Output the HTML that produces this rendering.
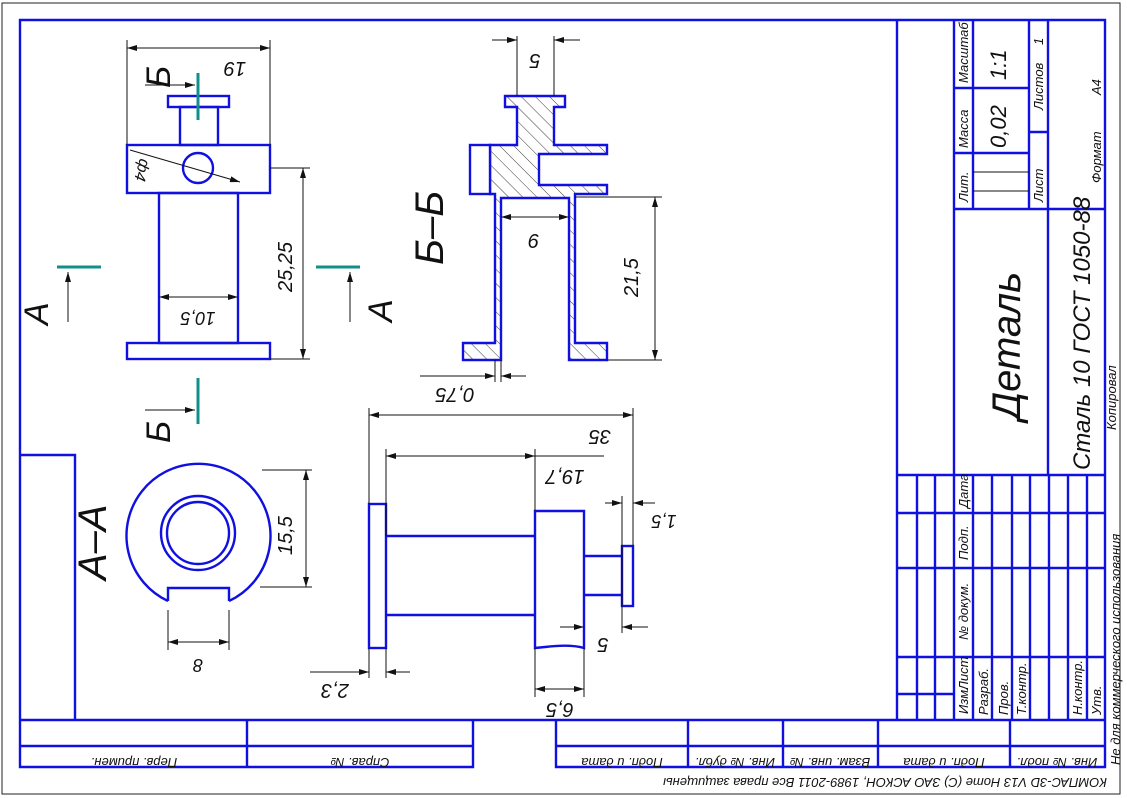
<!DOCTYPE html>
<html><head><meta charset="utf-8"><style>
html,body{margin:0;padding:0;background:#fff;}
svg{display:block;}
text{font-family:"Liberation Sans",sans-serif;font-style:italic;fill:#111;}
</style></head><body>
<svg width="1127" height="798" viewBox="0 0 1127 798" xmlns="http://www.w3.org/2000/svg">
<defs>
<pattern id="h" width="10" height="10" patternUnits="userSpaceOnUse" patternTransform="rotate(-45)">
<line x1="0" y1="0" x2="0" y2="10" stroke="#222" stroke-width="0.9"/>
</pattern>
<marker id="a" viewBox="0 0 10 6" refX="10" refY="3" markerWidth="10" markerHeight="6" orient="auto-start-reverse" markerUnits="userSpaceOnUse">
<path d="M0,0 L10,3 L0,6z" fill="#111"/></marker>
</defs>
<rect x="2" y="3" width="1118" height="791" fill="none" stroke="#222" stroke-width="1"/>
<g fill="none" stroke="#1010e0" stroke-width="2.4">
<path d="M20,720 V20 H1105 V767 H556 V720 M20,720 H1105 M473,720 V767 H20 V720 M20,746 H473 M556,746 H1105 M247,720 V767 M688,720 V767 M783,720 V767 M878,720 V767 M1010,720 V767"/>
<path d="M20,455 H75 V720"/>
<path d="M897,20 V720 M954,20 V720 M1048,20 V475 M954,209 H1105 M897,475 H1105 M954,88 H1029 M954,153 H1029 M973,20 V209 M1029,20 V209 M1029,132 H1048"/>
<path d="M917,475 V720 M935,475 V720 M973,475 V720 M992,475 V720 M1012,475 V720 M1030,475 V720 M1049,475 V720 M1068,475 V720 M1087,475 V720 M897,513 H1105 M897,568 H1105 M897,657 H1105 M897,694 H954"/>
</g>
<g stroke="#111" stroke-width="1"><line x1="973" y1="172" x2="1029" y2="172"/><line x1="973" y1="191" x2="1029" y2="191"/></g>

<g fill="none" stroke="#1010e0" stroke-width="2.4">
<rect x="168" y="96" width="61" height="11"/>
<rect x="180" y="107" width="38" height="38"/>
<rect x="127" y="145" width="143" height="48"/>
<circle cx="198" cy="168" r="15"/>
<rect x="159" y="193" width="79" height="150"/>
<rect x="127" y="343" width="143" height="16"/>
</g>
<g stroke="#111" stroke-width="1" fill="none">
<line x1="127" y1="40" x2="127" y2="145"/><line x1="270" y1="40" x2="270" y2="145"/>
<line x1="127" y1="48" x2="270" y2="48" marker-start="url(#a)" marker-end="url(#a)"/>
<line x1="270" y1="168" x2="310" y2="168"/><line x1="270" y1="359" x2="310" y2="359"/>
<line x1="303" y1="168" x2="303" y2="359" marker-start="url(#a)" marker-end="url(#a)"/>
<line x1="159" y1="297" x2="238" y2="297" marker-start="url(#a)" marker-end="url(#a)"/>
<line x1="130" y1="150" x2="240" y2="182" marker-end="url(#a)"/>
<line x1="145" y1="85" x2="195" y2="85" marker-end="url(#a)"/>
<line x1="145" y1="410" x2="195" y2="410" marker-end="url(#a)"/>
<line x1="68" y1="322" x2="68" y2="272" marker-end="url(#a)"/>
<line x1="350" y1="322" x2="350" y2="272" marker-end="url(#a)"/>
</g>
<g stroke="#11908a" stroke-width="3">
<line x1="198" y1="73" x2="198" y2="120"/><line x1="198" y1="378" x2="198" y2="424"/>
<line x1="57" y1="267" x2="101" y2="267"/><line x1="316" y1="267" x2="360" y2="267"/>
</g>
<text font-size="20" transform="translate(235 62) rotate(180)" text-anchor="middle">19</text>
<text font-size="34" transform="translate(170 88) rotate(-90)">Б</text>
<text font-size="34" transform="translate(170 443) rotate(-90)">Б</text>
<text font-size="34" transform="translate(48 325) rotate(-90)">А</text>
<text font-size="34" transform="translate(392 322) rotate(-90)">А</text>
<text font-size="20" transform="translate(292 292) rotate(-90)">25,25</text>
<text font-size="18" text-anchor="middle" transform="translate(198 312) rotate(180)">10,5</text>
<text font-size="16" transform="translate(140 158) rotate(105)">ф4</text>

<path d="M505,96 H565 V107 H554 V145 H607 V154 H539 V185 H607 V194 H575 V343 H607 V360 H569 V198 H501 V360 H463 V343 H495 V194 H490 V145 H517 V107 H505 Z" fill="url(#h)" stroke="#1010e0" stroke-width="2.4"/>
<rect x="470" y="145" width="20" height="49" fill="#fff" stroke="#1010e0" stroke-width="2.4"/>
<g stroke="#111" stroke-width="1" fill="none">
<line x1="517" y1="36" x2="517" y2="96"/><line x1="554" y1="36" x2="554" y2="96"/>
<line x1="492" y1="40" x2="517" y2="40" marker-end="url(#a)"/><line x1="580" y1="40" x2="554" y2="40" marker-end="url(#a)"/>
<line x1="501" y1="217" x2="569" y2="217" marker-start="url(#a)" marker-end="url(#a)"/>
<line x1="575" y1="197" x2="662" y2="197"/><line x1="607" y1="360" x2="662" y2="360"/>
<line x1="655" y1="197" x2="655" y2="360" marker-start="url(#a)" marker-end="url(#a)"/>
<line x1="495" y1="360" x2="495" y2="382"/><line x1="501" y1="360" x2="501" y2="382"/>
<line x1="420" y1="376" x2="495" y2="376" marker-end="url(#a)"/><line x1="526" y1="376" x2="501" y2="376" marker-end="url(#a)"/>
</g>
<text font-size="20" transform="translate(535 54) rotate(180)" text-anchor="middle">5</text>
<text x="533" y="248" font-size="20" text-anchor="middle">6</text>
<text font-size="20" transform="translate(638 297) rotate(-90)">21,5</text>
<text font-size="20" transform="translate(455 388) rotate(180)" text-anchor="middle">0,75</text>
<text font-size="40" transform="translate(443 265) rotate(-90)">Б–Б</text>

<g fill="none" stroke="#1010e0" stroke-width="2.4">
<path d="M168,601 A72,72 0 1 1 229,601"/>
<path d="M168,601 V588 H229 V601"/>
<circle cx="198" cy="533" r="37"/>
<circle cx="198" cy="533" r="31"/>
</g>
<g stroke="#111" stroke-width="1" fill="none">
<line x1="168" y1="610" x2="168" y2="650"/><line x1="229" y1="610" x2="229" y2="650"/>
<line x1="168" y1="642" x2="229" y2="642" marker-start="url(#a)" marker-end="url(#a)"/>
<line x1="262" y1="470" x2="312" y2="470"/><line x1="260" y1="587" x2="312" y2="587"/>
<line x1="306" y1="470" x2="306" y2="587" marker-start="url(#a)" marker-end="url(#a)"/>
</g>
<text font-size="18" transform="translate(198 659) rotate(180)" text-anchor="middle">8</text>
<text font-size="20" transform="translate(292 555) rotate(-90)">15,5</text>
<text font-size="40" transform="translate(106 580) rotate(-90)">А–А</text>

<g fill="none" stroke="#1010e0" stroke-width="2.4">
<rect x="369" y="504" width="17" height="144"/>
<path d="M386,536 H535 M386,615 H535"/>
<path d="M535,511 H584 V648 Q570,644 545,647 L535,648 Z"/>
<path d="M584,556 H622 M584,595 H622"/>
<rect x="622" y="546" width="11" height="60"/>
</g>
<g stroke="#111" stroke-width="1" fill="none">
<line x1="369" y1="408" x2="369" y2="504"/><line x1="633" y1="408" x2="633" y2="546"/>
<line x1="369" y1="415" x2="633" y2="415" marker-start="url(#a)" marker-end="url(#a)"/>
<line x1="386" y1="449" x2="386" y2="536"/><line x1="535" y1="449" x2="535" y2="511"/>
<line x1="386" y1="456" x2="535" y2="456" marker-start="url(#a)" marker-end="url(#a)"/><line x1="535" y1="456" x2="604" y2="456"/>
<line x1="622" y1="496" x2="622" y2="633"/>
<line x1="605" y1="503" x2="622" y2="503" marker-end="url(#a)"/><line x1="655" y1="503" x2="633" y2="503" marker-end="url(#a)"/>
<line x1="560" y1="627" x2="584" y2="627" marker-end="url(#a)"/><line x1="648" y1="627" x2="622" y2="627" marker-end="url(#a)"/>
<line x1="535" y1="648" x2="535" y2="697"/><line x1="584" y1="648" x2="584" y2="697"/>
<line x1="535" y1="689" x2="584" y2="689" marker-start="url(#a)" marker-end="url(#a)"/>
<line x1="369" y1="648" x2="369" y2="678"/><line x1="386" y1="648" x2="386" y2="678"/>
<line x1="310" y1="672" x2="369" y2="672" marker-end="url(#a)"/><line x1="410" y1="672" x2="386" y2="672" marker-end="url(#a)"/>
</g>
<text font-size="20" transform="translate(600 430) rotate(180)" text-anchor="middle">35</text>
<text font-size="20" transform="translate(565 470) rotate(180)" text-anchor="middle">19,7</text>
<text font-size="18" transform="translate(664 515) rotate(180)" text-anchor="middle">1,5</text>
<text font-size="20" transform="translate(603 638) rotate(180)" text-anchor="middle">5</text>
<text font-size="20" transform="translate(560 703) rotate(180)" text-anchor="middle">6,5</text>
<text font-size="20" transform="translate(335 684) rotate(180)" text-anchor="middle">2,3</text>

<g font-size="13">
<text transform="translate(968 83) rotate(-90)">Масштаб</text>
<text transform="translate(968 148) rotate(-90)">Масса</text>
<text transform="translate(968 202) rotate(-90)">Лит.</text>
<text transform="translate(1043 110) rotate(-90)">Листов</text>
<text transform="translate(1043 202) rotate(-90)">Лист</text>
<text transform="translate(1043 45) rotate(-90)">1</text>
<text transform="translate(1101 183) rotate(-90)">Формат</text>
<text transform="translate(1101 95) rotate(-90)">А4</text>
<text transform="translate(1116 430) rotate(-90)">Копировал</text>
<text transform="translate(968 714) rotate(-90)">Изм.</text>
<text transform="translate(968 690) rotate(-90)">Лист</text>
<text transform="translate(968 640) rotate(-90)">№ докум.</text>
<text transform="translate(968 560) rotate(-90)">Подп.</text>
<text transform="translate(968 508) rotate(-90)">Дата</text>
<text transform="translate(988 715) rotate(-90)">Разраб.</text>
<text transform="translate(1008 715) rotate(-90)">Пров.</text>
<text transform="translate(1026 715) rotate(-90)">Т.контр.</text>
<text transform="translate(1082 715) rotate(-90)">Н.контр.</text>
<text transform="translate(1101 715) rotate(-90)">Утв.</text>
<text transform="translate(1120 765) rotate(-90)">Не для коммерческого использования</text>
</g>
<text font-size="22" transform="translate(1006 80) rotate(-90)">1:1</text>
<text font-size="22" transform="translate(1006 148) rotate(-90)">0,02</text>
<text font-size="40" transform="translate(1020 420) rotate(-90)">Деталь</text>
<text font-size="24" transform="translate(1090 470) rotate(-90)">Сталь 10  ГОСТ 1050-88</text>
<g font-size="13" text-anchor="middle">
<text transform="translate(134 758) rotate(180)">Перв. примен.</text>
<text transform="translate(360 758) rotate(180)">Справ. №</text>
<text transform="translate(622 758) rotate(180)">Подп. и дата</text>
<text transform="translate(735 758) rotate(180)">Инв. № дубл.</text>
<text transform="translate(830 758) rotate(180)">Взам. инв. №</text>
<text transform="translate(944 758) rotate(180)">Подп. и дата</text>
<text transform="translate(1057 758) rotate(180)">Инв. № подл.</text>
<text transform="translate(885 778) rotate(180)">КОМПАС-3D V13 Home (С) ЗАО АСКОН, 1989-2011 Все права защищены</text>
</g>
</svg>
</body></html>
